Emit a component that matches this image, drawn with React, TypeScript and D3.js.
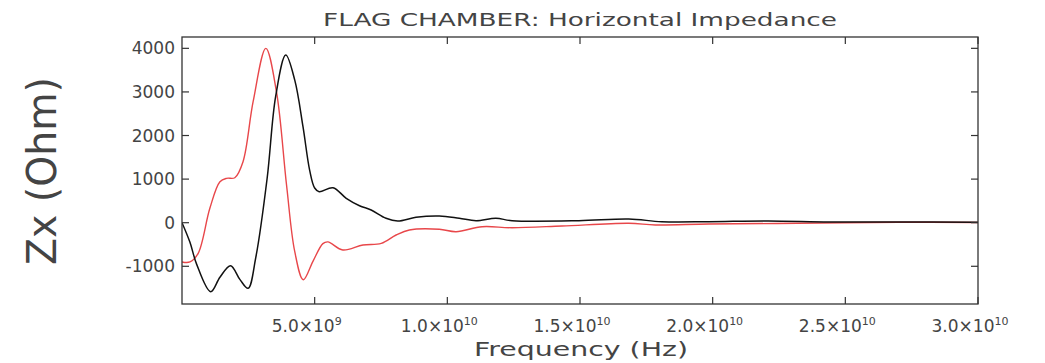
import React from "react";
import * as d3 from "d3";

const TITLE = "FLAG CHAMBER: Horizontal Impedance";
const X_LABEL = "Frequency (Hz)";
const Y_LABEL = "Zx (Ohm)";

// frequency in GHz
const blackFreq = [0, 0.3, 0.55, 1.08, 1.43, 1.83, 2.18, 2.49, 2.78, 3.21, 3.53, 3.91, 4.25, 4.56, 4.81, 5.0, 5.17, 5.69, 6.19, 6.69, 7.13, 7.69, 8.13, 8.82, 9.7, 10.45, 11.08, 11.83, 12.44, 14.96, 16.84, 18.08, 19.85, 22.1, 24.4, 27.0, 30.0];
const blackVals = [0, -450, -950, -1583, -1250, -986, -1300, -1505, -800, 1025, 2900, 3846, 3270, 2202, 1208, 796, 711, 803, 560, 390, 291, 101, 39, 124, 154, 101, 46, 101, 46, 46, 85, 23, 23, 39, 15, 15, 10];

const redFreq = [0, 0.3, 0.61, 1.05, 1.43, 1.68, 1.99, 2.3, 2.68, 3.16, 3.56, 3.94, 4.25, 4.57, 4.94, 5.31, 5.5, 6.06, 6.82, 7.51, 8.07, 8.57, 9.7, 10.33, 11.31, 12.44, 14.32, 16.84, 17.84, 19.85, 23.2, 27.0, 30.0];
const redVals = [-900, -900, -702, 330, 940, 1018, 1032, 1400, 2775, 4000, 3005, 865, -665, -1310, -880, -480, -440, -626, -511, -473, -282, -167, -151, -206, -92, -115, -76, -14, -53, -30, -14, 10, 5];

const xTicks = [5, 10, 15, 20, 25, 30]; // GHz
const xTickMantissa = ["5.0", "1.0", "1.5", "2.0", "2.5", "3.0"];
const xTickExp = ["9", "10", "10", "10", "10", "10"];
const yTicks = [-1000, 0, 1000, 2000, 3000, 4000];

const W = 1045;
const H = 363;
const L = 182, R = 978, T = 37, B = 304;

export default function App() {
  const x = d3.scaleLinear().domain([0, 30]).range([L, R]);
  const y = d3.scaleLinear().domain([-1865, 4260]).range([B, T]);
  const line = d3
    .line<[number, number]>()
    .x((d) => x(d[0]))
    .y((d) => y(d[1]))
    .curve(d3.curveCatmullRom.alpha(0.5));
  const blackPts = blackFreq.map((f, i) => [f, blackVals[i]] as [number, number]);
  const redPts = redFreq.map((f, i) => [f, redVals[i]] as [number, number]);
  const tickLen = 7;
  const textColor = "#444";
  const font = "'DejaVu Sans', sans-serif";

  return (
    <svg
      width={W}
      height={H}
      style={{ position: "absolute", left: 0, top: 0, background: "#fff" }}
      fontFamily={font}
    >
      <rect x={0} y={0} width={W} height={H} fill="#fff" />
      <text x={580} y={26} textAnchor="middle" fontSize={18} fill={textColor} textLength={514} lengthAdjust="spacingAndGlyphs">
        {TITLE}
      </text>
      <defs>
        <clipPath id="plot">
          <rect x={L} y={T} width={R - L} height={B - T} />
        </clipPath>
      </defs>
      <g clipPath="url(#plot)" fill="none">
        <path d={line(redPts) || ""} stroke="#e8474a" strokeWidth={1.4} />
        <path d={line(blackPts) || ""} stroke="#111" strokeWidth={1.5} />
      </g>
      <rect x={L} y={T} width={R - L} height={B - T} fill="none" stroke="#333" strokeWidth={1.3} />
      {xTicks.map((t, i) => (
        <g key={"xt" + i}>
          <line x1={x(t)} x2={x(t)} y1={B} y2={B - tickLen} stroke="#333" strokeWidth={1.2} />
          <line x1={x(t)} x2={x(t)} y1={T} y2={T + tickLen} stroke="#333" strokeWidth={1.2} />
          <text x={x(t) - 8} y={332} textAnchor="middle" fontSize={17} fill={textColor}>
            {xTickMantissa[i]}×10
            <tspan fontSize={11} dy={-7}>{xTickExp[i]}</tspan>
          </text>
        </g>
      ))}
      {yTicks.map((t, i) => (
        <g key={"yt" + i}>
          <line x1={L} x2={L + tickLen} y1={y(t)} y2={y(t)} stroke="#333" strokeWidth={1.2} />
          <line x1={R} x2={R - tickLen} y1={y(t)} y2={y(t)} stroke="#333" strokeWidth={1.2} />
          <text x={175} y={y(t) + 6} textAnchor="end" fontSize={17} fill={textColor}>
            {String(t)}
          </text>
        </g>
      ))}
      <text x={581} y={356} textAnchor="middle" fontSize={20} fill={textColor} textLength={214} lengthAdjust="spacingAndGlyphs">
        {X_LABEL}
      </text>
      <text
        transform={`translate(56, ${171}) rotate(-90)`}
        textAnchor="middle"
        fontSize={40}
        fill={textColor}
        textLength={188}
        lengthAdjust="spacingAndGlyphs"
      >
        {Y_LABEL}
      </text>
    </svg>
  );
}
